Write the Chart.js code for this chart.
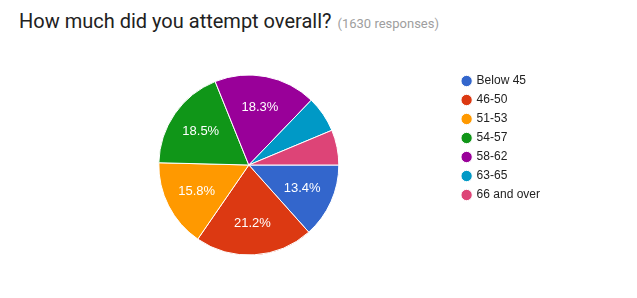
<!DOCTYPE html>
<html>
<head>
<meta charset="utf-8">
<script src="https://cdn.jsdelivr.net/npm/chart.js@4"></script>
<style>
  body { margin: 0; background: #fff; }
  #wrap { position: relative; width: 637px; height: 298px; }
  #title { position: absolute; left: 19px; top: 9px; font-family: Roboto, Arial, sans-serif; font-size: 20px; color: #212121; white-space: nowrap; }
  #title span { font-size: 13px; color: #9e9e9e; margin-left: 6px; }
  canvas { position: absolute; left: 0; top: 0; }
</style>
</head>
<body>
<div id="wrap">
  <div id="title">How much did you attempt overall?<span>(1630 responses)</span></div>
  <canvas id="myChart" width="637" height="298"></canvas>
</div>
<script>
var categories = ['Below 45', '46-50', '51-53', '54-57', '58-62', '63-65', '66 and over'];
var percents = [13.4, 21.2, 15.8, 18.5, 18.3, 6.5, 6.3];
var colors = ['#3366cc', '#dc3912', '#ff9900', '#109618', '#990099', '#0099c6', '#dd4477'];

// draws the percent text inside the bigger slices
var sliceLabels = {
    id: 'sliceLabels',
    afterDatasetsDraw: function(chart) {
        var ctx = chart.ctx;
        var meta = chart.getDatasetMeta(0);
        ctx.save();
        ctx.fillStyle = '#ffffff';
        ctx.font = '13px "Liberation Sans", Arial, sans-serif';
        ctx.textAlign = 'center';
        ctx.textBaseline = 'middle';
        meta.data.forEach(function(arc, i) {
            if (percents[i] < 10) return;
            var p = arc.getProps(['x', 'y', 'startAngle', 'endAngle', 'outerRadius'], true);
            var mid = (p.startAngle + p.endAngle) / 2;
            var r = p.outerRadius * 0.65;
            ctx.fillText(percents[i].toFixed(1) + '%', p.x + Math.cos(mid) * r, p.y + Math.sin(mid) * r);
        });
        ctx.restore();
    }
};

var ctx = document.getElementById('myChart').getContext('2d');
var chart = new Chart(ctx, {
    type: 'pie',
    data: {
        labels: categories,
        datasets: [{
            data: percents,
            backgroundColor: colors,
            borderColor: '#ffffff',
            borderWidth: 1,
            radius: 90
        }]
    },
    options: {
        responsive: false,
        animation: false,
        events: [],
        rotation: 90,
        layout: {
            padding: { left: 42, right: 87, top: 68, bottom: 36 }
        },
        plugins: {
            tooltip: { enabled: false },
            legend: {
                position: 'right',
                align: 'start',
                labels: {
                    usePointStyle: true,
                    pointStyle: 'circle',
                    boxWidth: 8,
                    boxHeight: 8,
                    padding: 7,
                    color: '#222222',
                    font: { family: '"Liberation Sans", Arial, sans-serif', size: 12 }
                }
            }
        }
    },
    plugins: [sliceLabels]
});
</script>
</body>
</html>
